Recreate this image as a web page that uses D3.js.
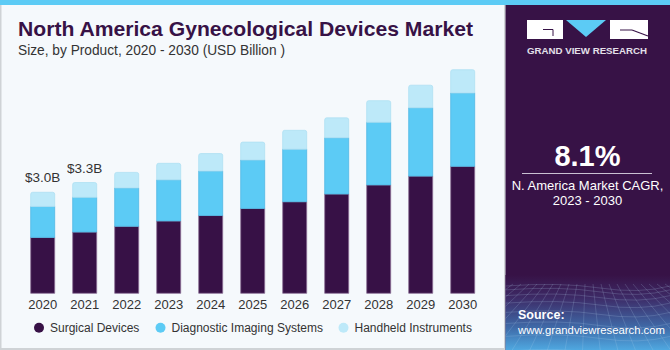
<!DOCTYPE html>
<html><head><meta charset="utf-8">
<script src="https://cdn.jsdelivr.net/npm/d3@7"></script>
<style>html,body{margin:0;padding:0;background:#fff;}svg{display:block;font-family:"Liberation Sans",Arial,sans-serif;}</style>
</head><body>
<svg id="c" width="670" height="350"></svg>
<script>
const years = ["2020","2021","2022","2023","2024","2025","2026","2027","2028","2029","2030"];
const surgical   = [1.66,1.82,1.99,2.15,2.31,2.52,2.72,2.95,3.22,3.48,3.77];
const diagnostic = [0.92,1.03,1.14,1.22,1.32,1.44,1.56,1.67,1.86,2.03,2.18];
const handheld   = [0.42,0.44,0.46,0.49,0.52,0.53,0.56,0.59,0.64,0.67,0.69];
const seriesNames = ["Surgical Devices","Diagnostic Imaging Systems","Handheld Instruments"];
const colors = ["#371146","#5ccbf5","#bde9f9"];
const strokes = ["#8a6f96","#4fb8e3","#aee0f3"];
const valueLabels = [{year:"2020",text:"$3.0B"},{year:"2021",text:"$3.3B"}];

const svg = d3.select("#c");
// backgrounds
svg.append("rect").attr("x",0).attr("y",0).attr("width",670).attr("height",350).attr("fill","#f5f9fc");
svg.append("rect").attr("x",0).attr("y",0).attr("width",1.5).attr("height",350).attr("fill","#cfd3d6");
svg.append("rect").attr("x",0).attr("y",348).attr("width",505).attr("height",2).attr("fill","#cfd3d6");
svg.append("rect").attr("x",504).attr("y",0).attr("width",1.5).attr("height",350).attr("fill","#cfd3d6");

// right panel
const defs = svg.append("defs");
const g1 = defs.append("linearGradient").attr("id","bot").attr("x1",0).attr("y1",0).attr("x2",0).attr("y2",1);
g1.append("stop").attr("offset","0").attr("stop-color","#371246");
g1.append("stop").attr("offset","0.3").attr("stop-color","#3d2a66");
g1.append("stop").attr("offset","0.7").attr("stop-color","#3f6aa8");
g1.append("stop").attr("offset","1").attr("stop-color","#4fa8e0");
svg.append("rect").attr("x",505.5).attr("y",0).attr("width",165).attr("height",350).attr("fill","#371246");
svg.append("rect").attr("x",505.5).attr("y",275).attr("width",165).attr("height",75).attr("fill","url(#bot)");
// grid texture
const grid = svg.append("g").attr("stroke","#b8d4f0").attr("stroke-opacity",0.28).attr("stroke-width",0.7).attr("fill","none");
for (let i=0;i<9;i++){
  const yy = 286 + i*i*0.9 + i*3;
  grid.append("path").attr("d",`M505.5,${yy} Q560,${yy-4} 600,${yy+2} T670,${yy}`);
}
const gclip = defs.append("clipPath").attr("id","pc");
gclip.append("rect").attr("x",505.5).attr("y",0).attr("width",165).attr("height",350);
grid.attr("clip-path","url(#pc)");
for (let i=-10;i<=22;i++){
  const xt = 505 + i*8;
  const xb = 587 + (xt-587)*2.2;
  grid.append("line").attr("x1",xt).attr("y1",284).attr("x2",xb).attr("y2",350);
}

// top stripe
svg.append("rect").attr("x",0).attr("y",0).attr("width",670).attr("height",5).attr("fill","#5ccbf5");

// logo
const logo = svg.append("g");
logo.append("rect").attr("x",527).attr("y",20).attr("width",36).attr("height",19).attr("fill","#ffffff");
logo.append("path").attr("d","M543,29.5 L553,29.5 L553,36").attr("stroke","#371246").attr("stroke-width",1).attr("fill","none");
logo.append("path").attr("d","M566,20 L606,20 L586,37 Z").attr("fill","#5ccbf5");
logo.append("rect").attr("x",610).attr("y",20).attr("width",38).attr("height",19).attr("fill","#ffffff");
logo.append("path").attr("d","M632,30 L648,36").attr("stroke","#371246").attr("stroke-width",1.2);
logo.append("path").attr("d","M620,30 L632,30").attr("stroke","#371246").attr("stroke-width",1);
svg.append("text").attr("x",527).attr("y",53.5).attr("textLength",120).attr("lengthAdjust","spacingAndGlyphs")
  .attr("font-size",9.5).attr("font-weight","bold").attr("fill","#e4e0ea").text("GRAND VIEW RESEARCH");

// CAGR
svg.append("text").attr("x",587.5).attr("y",165.5).attr("text-anchor","middle").attr("font-size",29).attr("font-weight","bold").attr("fill","#ffffff").text("8.1%");
svg.append("line").attr("x1",522).attr("x2",652).attr("y1",173.5).attr("y2",173.5).attr("stroke","#c9c0d2").attr("stroke-width",1);
svg.append("text").attr("x",587.5).attr("y",190).attr("text-anchor","middle").attr("font-size",13).attr("fill","#ffffff").text("N. America Market CAGR,");
svg.append("text").attr("x",587.5).attr("y",204.5).attr("text-anchor","middle").attr("font-size",13).attr("fill","#ffffff").text("2023 - 2030");
svg.append("text").attr("x",518).attr("y",319).attr("font-size",12.5).attr("font-weight","bold").attr("fill","#ffffff").text("Source:");
svg.append("text").attr("x",518).attr("y",333.5).attr("font-size",11.3).attr("fill","#ffffff").text("www.grandviewresearch.com");

// titles
svg.append("text").attr("x",18).attr("y",35.5).attr("font-size",21).attr("font-weight","bold").attr("fill","#371246")
  .attr("textLength",455).attr("lengthAdjust","spacingAndGlyphs").text("North America Gynecological Devices Market");
svg.append("text").attr("x",18).attr("y",54.5).attr("font-size",14).attr("fill","#333333")
  .attr("textLength",267).attr("lengthAdjust","spacingAndGlyphs").text("Size, by Product, 2020 - 2030 (USD Billion )");

// scales
const x = d3.scaleBand().domain(years).range([21.7,483.7]).paddingInner(0.4286).paddingOuter(0.2143);
const y = d3.scaleLinear().domain([0,7]).range([293.3,57.6]);

const data = years.map((yr,i)=>({year:yr, s0:surgical[i], s1:diagnostic[i], s2:handheld[i]}));
const stack = d3.stack().keys(["s0","s1","s2"])(data);

const bars = svg.append("g");
stack.forEach((layer,li)=>{
  bars.append("g").selectAll("path").data(layer).join("path")
    .attr("d", d=>{
      const x0 = x(d.data.year), w = x.bandwidth();
      const yt = y(d[1]), yb = y(d[0]);
      const r = li===2 ? 2 : 0;
      return `M${x0},${yb} L${x0},${yt+r} Q${x0},${yt} ${x0+r},${yt} L${x0+w-r},${yt} Q${x0+w},${yt} ${x0+w},${yt+r} L${x0+w},${yb} Z`;
    })
    .attr("fill",colors[li]).attr("stroke",strokes[li]).attr("stroke-width",0.8);
});

// value labels
valueLabels.forEach(v=>{
  const i = years.indexOf(v.year);
  const tot = surgical[i]+diagnostic[i]+handheld[i];
  svg.append("text").attr("x",x(v.year)+x.bandwidth()/2).attr("y",y(tot)-10)
    .attr("text-anchor","middle").attr("font-size",13.5).attr("fill","#333333").text(v.text);
});

// x axis
const xAxis = svg.append("g").attr("transform","translate(0,293.3)")
  .call(d3.axisBottom(x).tickSize(0).tickPadding(5));
xAxis.select(".domain").remove();
xAxis.selectAll("text").attr("font-size",13).attr("fill","#333333").attr("font-family","Liberation Sans, Arial, sans-serif").attr("dy","0.85em");

// legend
const legX = [39,160.5,343.5];
const leg = svg.append("g");
seriesNames.forEach((n,i)=>{
  leg.append("circle").attr("cx",legX[i]).attr("cy",327.7).attr("r",5).attr("fill",colors[i]);
  leg.append("text").attr("x",legX[i]+11).attr("y",332).attr("font-size",12).attr("fill","#333333").text(n);
});
</script>
</body></html>
